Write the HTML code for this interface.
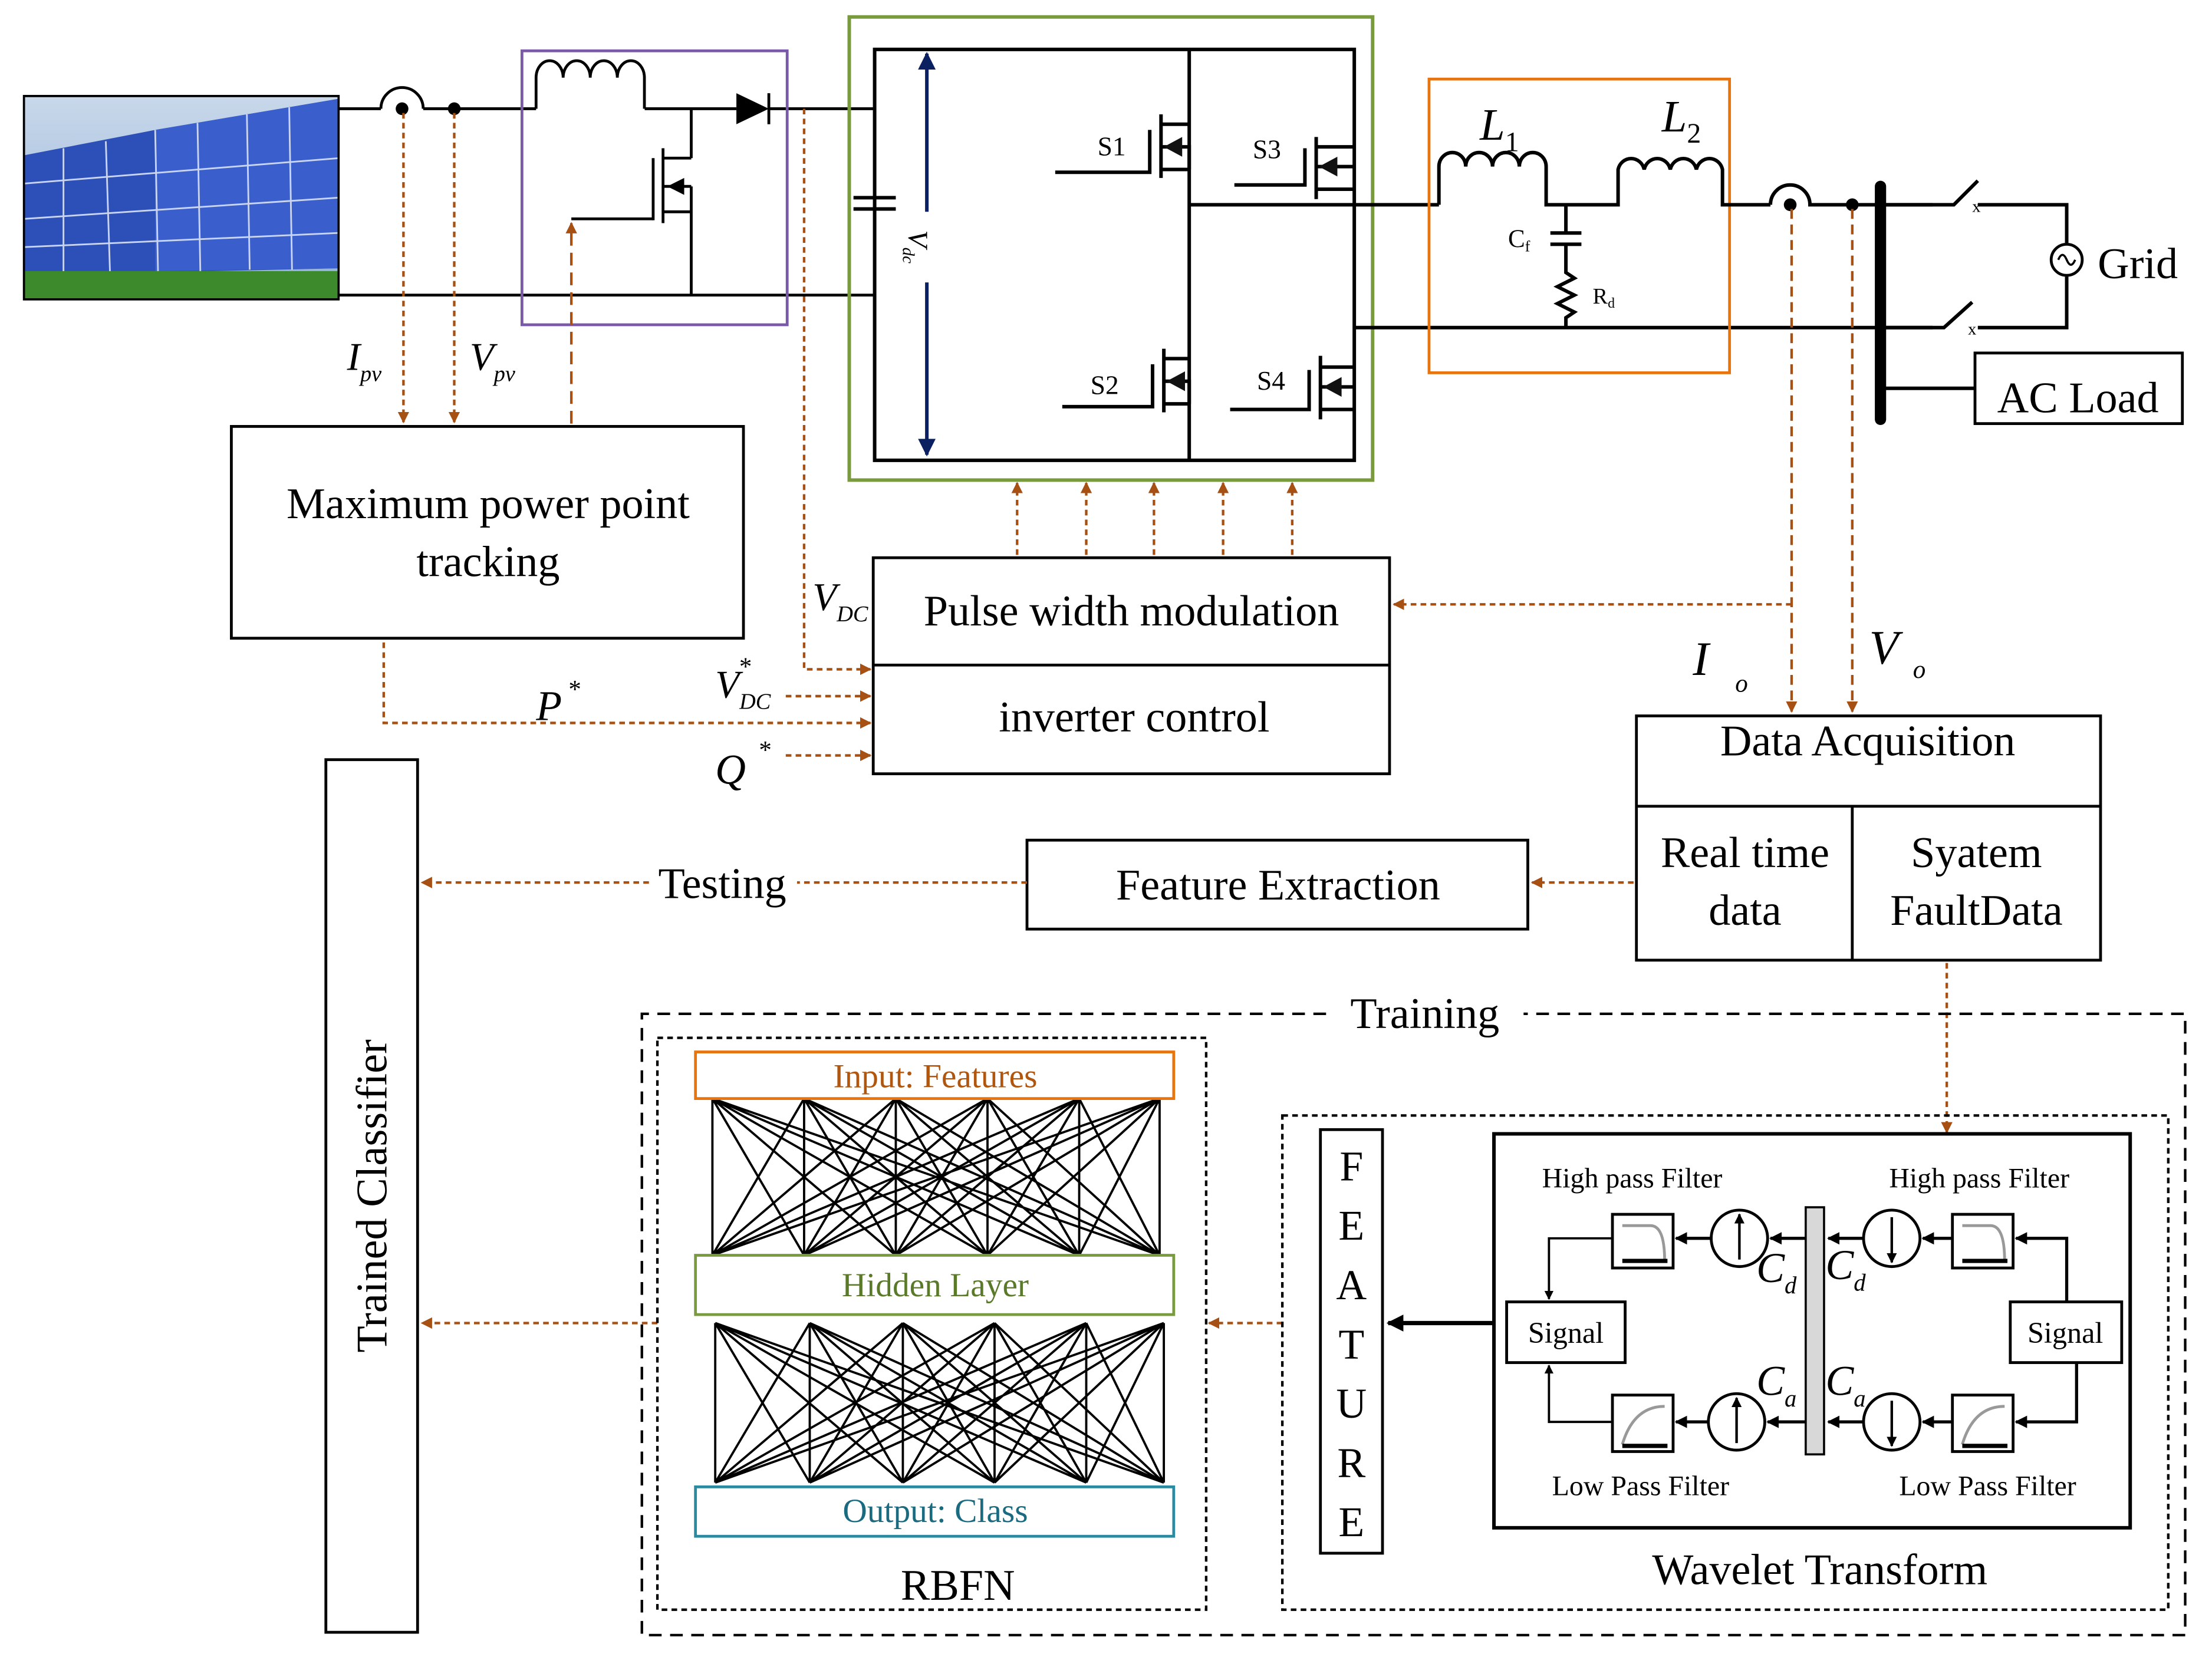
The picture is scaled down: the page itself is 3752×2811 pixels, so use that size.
<!DOCTYPE html>
<html><head><meta charset="utf-8"><style>
html,body{margin:0;padding:0;background:#fff;}
svg{display:block;}
text{font-family:"Liberation Serif",serif;fill:#000;}
</style></head><body>
<svg width="3752" height="2811" viewBox="0 0 1568 1173.5" preserveAspectRatio="none" xmlns="http://www.w3.org/2000/svg">
<defs>
<marker id="ab" viewBox="0 0 10 10" refX="9" refY="5" markerWidth="4.5" markerHeight="4.5" orient="auto"><path d="M0,0 L10,5 L0,10 z" fill="#a65014"/></marker>
<marker id="ak" viewBox="0 0 10 10" refX="9" refY="5" markerWidth="4" markerHeight="4" orient="auto"><path d="M0,0 L10,5 L0,10 z" fill="#000"/></marker>
<marker id="an" viewBox="0 0 10 10" refX="9" refY="5" markerWidth="5" markerHeight="5" orient="auto"><path d="M0,0 L10,5 L0,10 z" fill="#0a2060"/></marker>
<linearGradient id="sky" x1="0" y1="0" x2="0" y2="1"><stop offset="0" stop-color="#c9d8ea"/><stop offset="1" stop-color="#8fb0d8"/></linearGradient>
</defs>

<rect x="17" y="68" width="223" height="144" fill="url(#sky)" stroke="#000" stroke-width="1.5"/>
<polygon points="17,110 110,92 240,70 240,190 17,195" fill="#2d4fb8"/>
<polygon points="110,92 240,70 240,190 110,192" fill="#3a5fcc"/>
<g stroke="#c8d4f0" stroke-width="1.2">
<line x1="17" y1="130" x2="240" y2="112"/><line x1="17" y1="155" x2="240" y2="140"/><line x1="17" y1="175" x2="240" y2="165"/>
<line x1="45" y1="105" x2="45" y2="195"/><line x1="75" y1="100" x2="78" y2="194"/><line x1="110" y1="92" x2="112" y2="192"/><line x1="140" y1="87" x2="142" y2="192"/><line x1="175" y1="81" x2="177" y2="191"/><line x1="205" y1="76" x2="207" y2="191"/>
</g>
<rect x="17" y="192" width="223" height="20" fill="#3c8a2c"/>
<rect x="17" y="68" width="223" height="144" fill="none" stroke="#000" stroke-width="1.5"/>

<g stroke="#000" stroke-width="2" fill="none">
<line x1="240" y1="77" x2="270" y2="77"/>
<path d="M270,77 A15,15 0 0 1 300,77"/>
<line x1="300" y1="77" x2="380" y2="77"/>
<path d="M380,77 V55 a9.6,12 0 0 1 19.2,0 a9.6,12 0 0 1 19.2,0 a9.6,12 0 0 1 19.2,0 a9.6,12 0 0 1 19.2,0 V77"/>
<line x1="457" y1="77" x2="522" y2="77"/>
<line x1="545" y1="77" x2="620" y2="77"/>
<line x1="545" y1="66" x2="545" y2="88"/>
<line x1="240" y1="209" x2="620" y2="209"/>
<line x1="490" y1="77" x2="490" y2="112"/>
<line x1="490" y1="112" x2="470" y2="112"/>
<line x1="470" y1="105" x2="470" y2="158"/>
<line x1="463" y1="112" x2="463" y2="156"/>
<line x1="405" y1="155" x2="463" y2="155"/>
<line x1="470" y1="150" x2="490" y2="150"/>
<line x1="490" y1="132" x2="490" y2="209"/>
<line x1="470" y1="132" x2="490" y2="132"/>
</g>
<polygon points="522,66 522,88 545,77" fill="#000"/>
<polygon points="473,132 485,126 485,138" fill="#000"/>
<circle cx="285" cy="77" r="4.5" fill="#000"/><circle cx="322" cy="77" r="4.5" fill="#000"/>
<rect x="370" y="36" width="188" height="194" fill="none" stroke="#7a5aa8" stroke-width="2"/>

<rect x="602" y="12" width="371" height="328" fill="none" stroke="#7a9a40" stroke-width="2.5"/>
<g stroke="#000" stroke-width="2.5" fill="none">
<rect x="620" y="35" width="340" height="291"/>
<line x1="843" y1="35" x2="843" y2="326"/>
<line x1="605" y1="140" x2="635" y2="140"/><line x1="605" y1="148" x2="635" y2="148"/>
<line x1="843" y1="145" x2="1020" y2="145"/>
<line x1="960" y1="232" x2="1370" y2="232"/>
<path d="M748,122 H815 V92 M823,81 V126 M823,88 H843 M823,120 H843 M823,104 H843 V120"/>
<path d="M753,288 H817 V258 M825,247 V292 M825,254 H843 M825,286 H843 M825,270 H843 V286"/>
<path d="M875,131 H925 V105 M933,97 V141 M933,104 H960 M933,134 H960 M933,118 H960"/>
<path d="M872,290 H928 V262 M936,252 V297 M936,260 H960 M936,290 H960 M936,274 H960"/>
</g>
<g fill="#111">
<polygon points="825,104 838,97 838,111"/><polygon points="827,270 840,263 840,277"/>
<polygon points="935,118 948,111 948,125"/><polygon points="938,274 951,267 951,281"/>
</g>
<line x1="657" y1="200" x2="657" y2="322" stroke="#0a2060" stroke-width="2.5" marker-end="url(#an)"/>
<line x1="657" y1="150" x2="657" y2="38" stroke="#0a2060" stroke-width="2.5" marker-end="url(#an)"/>
<text x="0" y="0" font-size="20" font-style="italic" transform="translate(644,163) rotate(90)">V<tspan font-size="12" dy="4">dc</tspan></text>
<text x="778" y="110" font-size="19">S1</text><text x="888" y="112" font-size="19">S3</text>
<text x="773" y="279" font-size="19">S2</text><text x="891" y="276" font-size="19">S4</text>

<rect x="1013" y="56" width="213" height="208" fill="none" stroke="#e8740e" stroke-width="2"/>
<g stroke="#000" stroke-width="2.5" fill="none">
<path d="M1020,145 V118 a9.5,10 0 0 1 19,0 a9.5,10 0 0 1 19,0 a9.5,10 0 0 1 19,0 a9.5,10 0 0 1 19,0 V145 H1147 V120 a9.5,10 0 0 1 18.5,0 a9.5,10 0 0 1 18.5,0 a9.5,10 0 0 1 18.5,0 a9.5,10 0 0 1 18.5,0 V145 H1255"/>
<path d="M1255,145 A14,14 0 0 1 1283,145 H1370"/>
<line x1="1110" y1="145" x2="1110" y2="165"/>
<line x1="1099" y1="165" x2="1121" y2="165"/><line x1="1099" y1="173" x2="1121" y2="173"/>
<path d="M1110,173 V193 l6,4 l-12,6 l12,6 l-12,6 l12,6 l-6,4 V232"/>
<path d="M1333,145 H1385 L1402,128 M1402,145 H1465 V172 M1465,196 V232 H1402 M1333,232 H1378 L1398,214 M1333,275 H1400"/>
</g>
<text x="1049" y="99" font-size="32" font-style="italic">L<tspan font-size="20" dy="8" font-style="normal">1</tspan></text>
<text x="1178" y="93" font-size="32" font-style="italic">L<tspan font-size="20" dy="8" font-style="normal">2</tspan></text>
<text x="1069" y="175" font-size="18">C<tspan font-size="11" dy="3">f</tspan></text>
<text x="1129" y="215" font-size="16">R<tspan font-size="10" dy="3">d</tspan></text>
<circle cx="1269" cy="145" r="4.5" fill="#000"/><circle cx="1313" cy="145" r="4.5" fill="#000"/>
<line x1="1333" y1="132" x2="1333" y2="297" stroke="#000" stroke-width="8" stroke-linecap="round"/>
<text x="1398" y="150" font-size="12">x</text><text x="1395" y="237" font-size="12">x</text>
<circle cx="1465" cy="184" r="11" fill="none" stroke="#000" stroke-width="2"/>
<path d="M1459,184 q3,-7 6,0 t6,0" fill="none" stroke="#000" stroke-width="1.5"/>
<text x="1487" y="197" font-size="31">Grid</text>
<rect x="1400" y="250" width="147" height="50" fill="none" stroke="#000" stroke-width="2"/>
<text x="1473" y="292" font-size="31" text-anchor="middle">AC Load</text>

<g stroke="#000" stroke-width="2" fill="none">
<rect x="164" y="302" width="363" height="150"/>
<rect x="619" y="395" width="366" height="153"/><line x1="619" y1="471" x2="985" y2="471"/>
<rect x="1160" y="507" width="329" height="173"/><line x1="1160" y1="571" x2="1489" y2="571"/><line x1="1313" y1="571" x2="1313" y2="680"/>
<rect x="728" y="595" width="355" height="63"/>
<rect x="231" y="538" width="65" height="618"/>
</g>
<text x="346" y="367" font-size="31" text-anchor="middle">Maximum power point</text>
<text x="346" y="408" font-size="31" text-anchor="middle">tracking</text>
<text x="802" y="443" font-size="31" text-anchor="middle">Pulse width modulation</text>
<text x="804" y="518" font-size="31" text-anchor="middle">inverter control</text>
<text x="1324" y="535" font-size="31" text-anchor="middle">Data Acquisition</text>
<text x="1237" y="614" font-size="31" text-anchor="middle">Real time</text>
<text x="1237" y="655" font-size="31" text-anchor="middle">data</text>
<text x="1401" y="614" font-size="31" text-anchor="middle">Syatem</text>
<text x="1401" y="655" font-size="31" text-anchor="middle">FaultData</text>
<text x="906" y="637" font-size="31" text-anchor="middle">Feature Extraction</text>
<text font-size="31" text-anchor="middle" transform="translate(274,847) rotate(-90)">Trained Classifier</text>

<g stroke="#a65014" stroke-width="1.8" fill="none" stroke-dasharray="4,3">
<line x1="286" y1="80" x2="286" y2="299" marker-end="url(#ab)"/>
<line x1="322" y1="80" x2="322" y2="299" marker-end="url(#ab)"/>
<line x1="405" y1="300" x2="405" y2="158" marker-end="url(#ab)" stroke-dasharray="9,5"/>
<polyline points="570,77 570,474 617,474" marker-end="url(#ab)"/>
<line x1="557" y1="493" x2="617" y2="493" marker-end="url(#ab)"/>
<polyline points="272,455 272,512 617,512" marker-end="url(#ab)"/>
<line x1="557" y1="535" x2="617" y2="535" marker-end="url(#ab)"/>
<line x1="721" y1="393" x2="721" y2="342" marker-end="url(#ab)"/>
<line x1="770" y1="393" x2="770" y2="342" marker-end="url(#ab)"/>
<line x1="818" y1="393" x2="818" y2="342" marker-end="url(#ab)"/>
<line x1="867" y1="393" x2="867" y2="342" marker-end="url(#ab)"/>
<line x1="916" y1="393" x2="916" y2="342" marker-end="url(#ab)"/>
<line x1="1270" y1="148" x2="1270" y2="504" marker-end="url(#ab)" stroke-dasharray="7,4"/>
<line x1="1313" y1="148" x2="1313" y2="504" marker-end="url(#ab)" stroke-dasharray="7,4"/>
<line x1="1270" y1="428" x2="988" y2="428" marker-end="url(#ab)"/>
<line x1="1158" y1="625" x2="1086" y2="625" marker-end="url(#ab)"/>
<line x1="728" y1="625" x2="565" y2="625"/>
<line x1="460" y1="625" x2="299" y2="625" marker-end="url(#ab)"/>
<line x1="1380" y1="682" x2="1380" y2="802" marker-end="url(#ab)"/>
<line x1="466" y1="937" x2="299" y2="937" marker-end="url(#ab)"/>
<line x1="909" y1="937" x2="857" y2="937" marker-end="url(#ab)"/>
</g>
<text x="512" y="636" font-size="31" text-anchor="middle">Testing</text>
<text x="246" y="262" font-size="28" font-style="italic">I<tspan font-size="16" dy="8">pv</tspan></text>
<text x="333" y="262" font-size="28" font-style="italic">V<tspan font-size="16" dy="8">pv</tspan></text>
<text x="576" y="432" font-size="28" font-style="italic">V<tspan font-size="16" dy="8">DC</tspan></text>
<text x="507" y="494" font-size="28" font-style="italic">V<tspan font-size="16" dy="8">DC</tspan></text>
<text x="524" y="478" font-size="18">*</text>
<text x="380" y="510" font-size="30" font-style="italic">P</text><text x="403" y="494" font-size="18">*</text>
<text x="507" y="555" font-size="30" font-style="italic">Q</text><text x="538" y="537" font-size="18">*</text>
<text x="1200" y="478" font-size="34" font-style="italic">I</text><text x="1230" y="490" font-size="18" font-style="italic">o</text>
<text x="1325" y="470" font-size="34" font-style="italic">V</text><text x="1356" y="480" font-size="18" font-style="italic">o</text>

<g fill="none" stroke="#000" stroke-width="1.8">
<path d="M940,718 H455 V1158 H1549 V718 H1080" stroke-dasharray="9,6"/>
<rect x="466" y="735" width="389" height="405" stroke-dasharray="4,3"/>
<rect x="909" y="790" width="628" height="350" stroke-dasharray="4,3"/>
<rect x="936" y="800" width="44" height="300" stroke-width="2"/>
<rect x="1059" y="803" width="451" height="279" stroke-width="2.5"/>
</g>
<text x="1010" y="728" font-size="31" text-anchor="middle">Training</text>

<g stroke="#000" stroke-width="1.6">
<path d="M505,778 L505,889 M505,778 L570,889 M505,778 L635,889 M505,778 L700,889 M505,778 L765,889 M505,778 L822,889
M570,778 L505,889 M570,778 L570,889 M570,778 L635,889 M570,778 L700,889 M570,778 L765,889 M570,778 L822,889
M635,778 L505,889 M635,778 L570,889 M635,778 L635,889 M635,778 L700,889 M635,778 L765,889 M635,778 L822,889
M700,778 L505,889 M700,778 L570,889 M700,778 L635,889 M700,778 L700,889 M700,778 L765,889 M700,778 L822,889
M765,778 L505,889 M765,778 L570,889 M765,778 L635,889 M765,778 L700,889 M765,778 L765,889 M765,778 L822,889
M822,778 L505,889 M822,778 L570,889 M822,778 L635,889 M822,778 L700,889 M822,778 L765,889 M822,778 L822,889"/>
<path d="M507,937 L507,1050 M507,937 L574,1050 M507,937 L640,1050 M507,937 L705,1050 M507,937 L770,1050 M507,937 L825,1050
M574,937 L507,1050 M574,937 L574,1050 M574,937 L640,1050 M574,937 L705,1050 M574,937 L770,1050 M574,937 L825,1050
M640,937 L507,1050 M640,937 L574,1050 M640,937 L640,1050 M640,937 L705,1050 M640,937 L770,1050 M640,937 L825,1050
M705,937 L507,1050 M705,937 L574,1050 M705,937 L640,1050 M705,937 L705,1050 M705,937 L770,1050 M705,937 L825,1050
M770,937 L507,1050 M770,937 L574,1050 M770,937 L640,1050 M770,937 L705,1050 M770,937 L770,1050 M770,937 L825,1050
M825,937 L507,1050 M825,937 L574,1050 M825,937 L640,1050 M825,937 L705,1050 M825,937 L770,1050 M825,937 L825,1050"/>
</g>
<rect x="493" y="745" width="339" height="33" fill="#fff" stroke="#e8740e" stroke-width="2"/>
<rect x="493" y="889" width="339" height="42" fill="#fff" stroke="#7a9a40" stroke-width="2"/>
<rect x="493" y="1053" width="339" height="35" fill="#fff" stroke="#2a8aa0" stroke-width="2"/>
<text x="663" y="770" font-size="24" text-anchor="middle" style="fill:#b0560e">Input: Features</text>
<text x="663" y="918" font-size="24" text-anchor="middle" style="fill:#5a7a2a">Hidden Layer</text>
<text x="663" y="1078" font-size="24" text-anchor="middle" style="fill:#1a6a80">Output: Class</text>
<text x="679" y="1133" font-size="31" text-anchor="middle">RBFN</text>

<g font-size="30" text-anchor="middle">
<text x="958" y="836">F</text><text x="958" y="878">E</text><text x="958" y="920">A</text><text x="958" y="962">T</text>
<text x="958" y="1004">U</text><text x="958" y="1046">R</text><text x="958" y="1088">E</text>
</g>
<line x1="1059" y1="937" x2="984" y2="937" stroke="#000" stroke-width="3" marker-end="url(#ak)"/>
<text x="1290" y="1122" font-size="31" text-anchor="middle">Wavelet Transform</text>

<rect x="1280" y="855" width="13" height="175" fill="#d8d8d8" stroke="#000" stroke-width="1.5"/>
<g fill="none" stroke="#000" stroke-width="2">
<rect x="1068" y="922" width="84" height="43"/><rect x="1425" y="922" width="79" height="43"/>
<rect x="1143" y="860" width="43" height="38"/><rect x="1384" y="860" width="43" height="38"/>
<rect x="1143" y="988" width="43" height="40"/><rect x="1384" y="988" width="43" height="40"/>
<circle cx="1233" cy="877" r="20"/><circle cx="1341" cy="877" r="20"/>
<circle cx="1231" cy="1007" r="20"/><circle cx="1341" cy="1007" r="20"/>
</g>
<g stroke="#999" stroke-width="2" fill="none">
<path d="M1150,868 H1170 Q1180,868 1180,893"/><path d="M1391,868 H1411 Q1421,868 1421,893"/>
<path d="M1150,1023 Q1158,996 1180,996"/><path d="M1391,1023 Q1399,996 1421,996"/>
</g>
<g stroke="#000" stroke-width="3"><line x1="1150" y1="893" x2="1182" y2="893"/><line x1="1391" y1="893" x2="1423" y2="893"/><line x1="1150" y1="1024" x2="1182" y2="1024"/><line x1="1391" y1="1024" x2="1423" y2="1024"/></g>
<g stroke="#000" stroke-width="2.2" fill="none">
<line x1="1280" y1="877" x2="1255" y2="877" marker-end="url(#ak)"/>
<line x1="1213" y1="877" x2="1188" y2="877" marker-end="url(#ak)"/>
<line x1="1321" y1="877" x2="1296" y2="877" marker-end="url(#ak)"/>
<line x1="1384" y1="877" x2="1363" y2="877" marker-end="url(#ak)"/>
<polyline points="1465,922 1465,877 1429,877" marker-end="url(#ak)"/>
<line x1="1280" y1="1007" x2="1253" y2="1007" marker-end="url(#ak)"/>
<line x1="1211" y1="1007" x2="1188" y2="1007" marker-end="url(#ak)"/>
<line x1="1321" y1="1007" x2="1296" y2="1007" marker-end="url(#ak)"/>
<line x1="1384" y1="1007" x2="1363" y2="1007" marker-end="url(#ak)"/>
<polyline points="1472,965 1472,1007 1429,1007" marker-end="url(#ak)"/>
<polyline points="1143,877 1098,877 1098,920" stroke-width="1.6" marker-end="url(#ak)"/>
<polyline points="1143,1007 1098,1007 1098,967" stroke-width="1.6" marker-end="url(#ak)"/>
<line x1="1233" y1="892" x2="1233" y2="860" stroke-width="1.8" marker-end="url(#ak)"/>
<line x1="1231" y1="1022" x2="1231" y2="990" stroke-width="1.8" marker-end="url(#ak)"/>
<line x1="1341" y1="862" x2="1341" y2="894" stroke-width="1.8" marker-end="url(#ak)"/>
<line x1="1341" y1="992" x2="1341" y2="1024" stroke-width="1.8" marker-end="url(#ak)"/>
</g>
<text x="1110" y="951" font-size="21" text-anchor="middle">Signal</text>
<text x="1464" y="951" font-size="21" text-anchor="middle">Signal</text>
<text x="1157" y="841" font-size="20" text-anchor="middle">High pass Filter</text>
<text x="1403" y="841" font-size="20" text-anchor="middle">High pass Filter</text>
<text x="1163" y="1059" font-size="20" text-anchor="middle">Low Pass Filter</text>
<text x="1409" y="1059" font-size="20" text-anchor="middle">Low Pass Filter</text>
<g font-style="italic">
<text x="1245" y="908" font-size="30">C<tspan font-size="17" dy="8">d</tspan></text>
<text x="1294" y="906" font-size="30">C<tspan font-size="17" dy="8">d</tspan></text>
<text x="1245" y="988" font-size="30">C<tspan font-size="17" dy="8">a</tspan></text>
<text x="1294" y="988" font-size="30">C<tspan font-size="17" dy="8">a</tspan></text>
</g>
</svg>
</body></html>
